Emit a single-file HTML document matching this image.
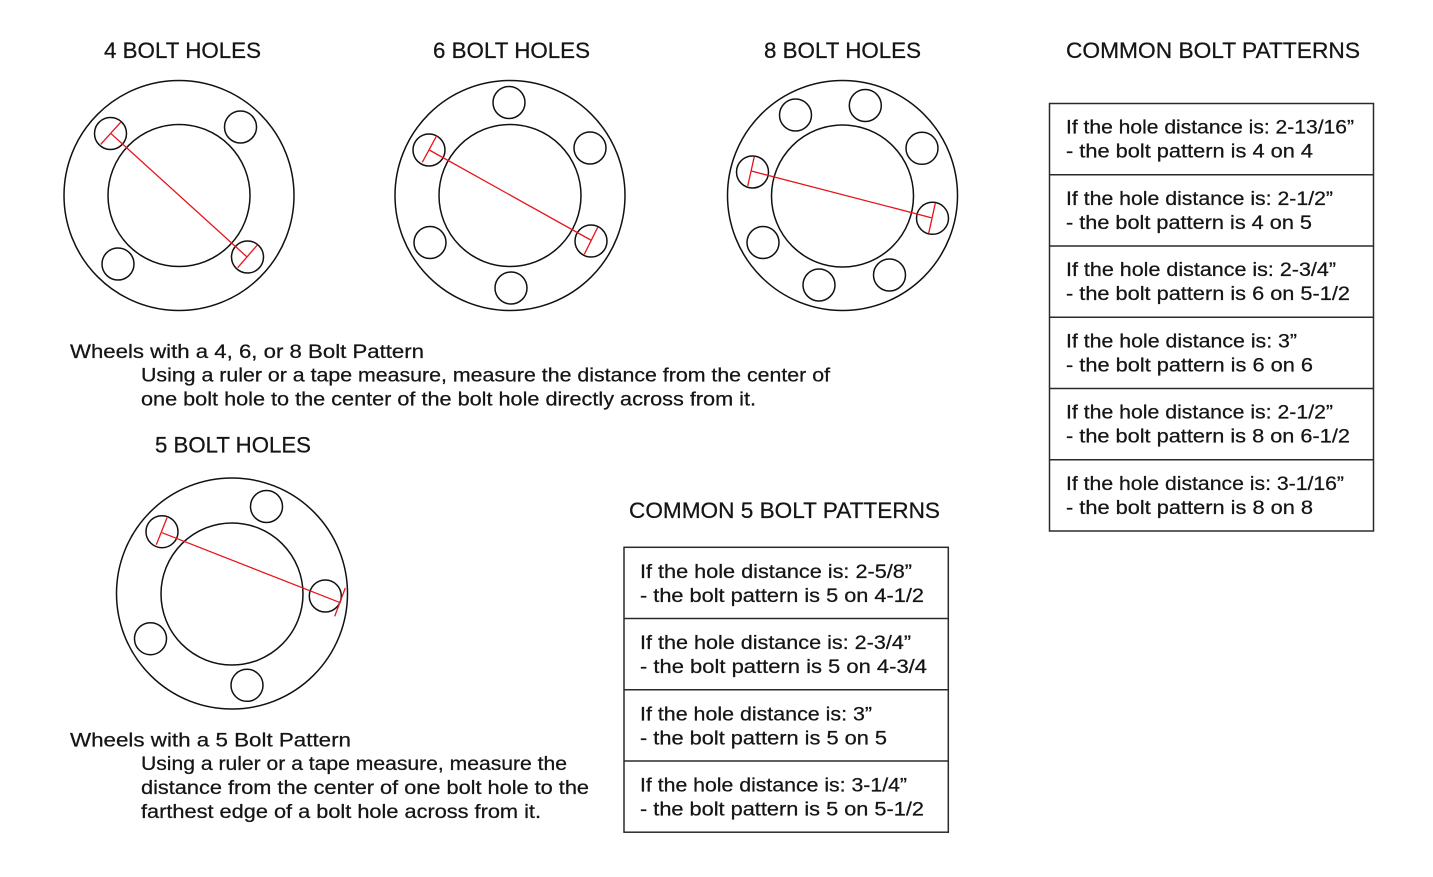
<!DOCTYPE html>
<html>
<head>
<meta charset="utf-8">
<style>
  html,body{margin:0;padding:0;background:#fff;}
  svg{display:block;}
  text{font-family:"Liberation Sans",Arial,sans-serif;fill:#151515;stroke:#151515;stroke-width:0.25px;}
  .h{font-size:22.5px;}
  .t{font-size:19px;}
</style>
</head>
<body>
<svg width="1433" height="877" viewBox="0 0 1433 877" xmlns="http://www.w3.org/2000/svg">
  <rect x="0" y="0" width="1433" height="877" fill="#fff"/>

  <!-- Headings -->
  <text class="h" x="104" y="58" textLength="157" lengthAdjust="spacingAndGlyphs">4 BOLT HOLES</text>
  <text class="h" x="433" y="58" textLength="157" lengthAdjust="spacingAndGlyphs">6 BOLT HOLES</text>
  <text class="h" x="764" y="58" textLength="157" lengthAdjust="spacingAndGlyphs">8 BOLT HOLES</text>
  <text class="h" x="1066" y="58" textLength="294" lengthAdjust="spacingAndGlyphs">COMMON BOLT PATTERNS</text>
  <text class="h" x="155" y="452.3" textLength="156" lengthAdjust="spacingAndGlyphs">5 BOLT HOLES</text>
  <text class="h" x="629" y="518" textLength="311" lengthAdjust="spacingAndGlyphs">COMMON 5 BOLT PATTERNS</text>

  <g fill="none" stroke="#111" stroke-width="1.5">
    <!-- 4 bolt -->
    <circle cx="179" cy="195.5" r="115"/>
    <circle cx="179" cy="195.5" r="71"/>
    <circle cx="110.5" cy="133.5" r="16"/>
    <circle cx="240.5" cy="127" r="16"/>
    <circle cx="118" cy="264" r="16"/>
    <circle cx="247.5" cy="257" r="16"/>
    <!-- 6 bolt -->
    <circle cx="510" cy="195.5" r="115"/>
    <circle cx="510" cy="195.5" r="71"/>
    <circle cx="509" cy="102.5" r="16"/>
    <circle cx="590" cy="148" r="16"/>
    <circle cx="429" cy="150" r="16"/>
    <circle cx="430" cy="242.5" r="16"/>
    <circle cx="591" cy="241" r="16"/>
    <circle cx="511" cy="288" r="16"/>
    <!-- 8 bolt -->
    <circle cx="842.5" cy="195.5" r="115"/>
    <circle cx="842.5" cy="196" r="71"/>
    <circle cx="795.5" cy="115" r="16"/>
    <circle cx="865.3" cy="105.5" r="16"/>
    <circle cx="922" cy="148.3" r="16"/>
    <circle cx="752.5" cy="172" r="16"/>
    <circle cx="932.5" cy="218.3" r="16"/>
    <circle cx="763" cy="242.5" r="16"/>
    <circle cx="819" cy="285" r="16"/>
    <circle cx="889.5" cy="275" r="16"/>
    <!-- 5 bolt -->
    <circle cx="232" cy="593.5" r="115.5"/>
    <circle cx="232" cy="594" r="71"/>
    <circle cx="162" cy="531.7" r="16"/>
    <circle cx="266.5" cy="506.5" r="16"/>
    <circle cx="325.3" cy="596" r="16"/>
    <circle cx="150.5" cy="638.7" r="16"/>
    <circle cx="247" cy="685.3" r="16"/>
  </g>

  <g fill="none" stroke="#e8141b" stroke-width="1.3">
    <!-- 4 bolt -->
    <line x1="110.7" y1="133.3" x2="246.7" y2="256.7"/>
    <line x1="100.7" y1="144.3" x2="120.7" y2="122.3"/>
    <line x1="237.7" y1="267.7" x2="257.3" y2="245"/>
    <!-- 6 bolt -->
    <line x1="429.3" y1="150" x2="590.7" y2="240"/>
    <line x1="422.3" y1="162.3" x2="436.7" y2="135.7"/>
    <line x1="584.3" y1="254.3" x2="597.7" y2="227.3"/>
    <!-- 8 bolt -->
    <line x1="751.3" y1="171" x2="931.3" y2="217.7"/>
    <line x1="747.7" y1="186" x2="754.3" y2="156.7"/>
    <line x1="928.7" y1="233.3" x2="935.3" y2="203.3"/>
    <!-- 5 bolt -->
    <line x1="162" y1="532.7" x2="340.3" y2="602.7"/>
    <line x1="156.3" y1="544.7" x2="167" y2="517.7"/>
    <line x1="334.7" y1="616.3" x2="345.3" y2="588"/>
  </g>

  <!-- Paragraph 1 -->
  <text class="t" x="70" y="357.8" textLength="354" lengthAdjust="spacingAndGlyphs">Wheels with a 4, 6, or 8 Bolt Pattern</text>
  <text class="t" x="141" y="381.6" textLength="689" lengthAdjust="spacingAndGlyphs">Using a ruler or a tape measure, measure the distance from the center of</text>
  <text class="t" x="141" y="405.6" textLength="615" lengthAdjust="spacingAndGlyphs">one bolt hole to the center of the bolt hole directly across from it.</text>

  <!-- Paragraph 2 -->
  <text class="t" x="70" y="746.5" textLength="281" lengthAdjust="spacingAndGlyphs">Wheels with a 5 Bolt Pattern</text>
  <text class="t" x="141" y="770.2" textLength="426" lengthAdjust="spacingAndGlyphs">Using a ruler or a tape measure, measure the</text>
  <text class="t" x="141" y="794.2" textLength="448" lengthAdjust="spacingAndGlyphs">distance from the center of one bolt hole to the</text>
  <text class="t" x="141" y="818.2" textLength="400" lengthAdjust="spacingAndGlyphs">farthest edge of a bolt hole across from it.</text>

  <!-- Right table -->
  <g fill="none" stroke="#2a2a2a" stroke-width="1.5">
    <rect x="1049.5" y="103.5" width="324" height="427.5"/>
    <line x1="1049.5" y1="174.75" x2="1373.5" y2="174.75"/>
    <line x1="1049.5" y1="246" x2="1373.5" y2="246"/>
    <line x1="1049.5" y1="317.25" x2="1373.5" y2="317.25"/>
    <line x1="1049.5" y1="388.5" x2="1373.5" y2="388.5"/>
    <line x1="1049.5" y1="459.75" x2="1373.5" y2="459.75"/>
  </g>
  <text class="t" x="1066" y="133.7" textLength="288" lengthAdjust="spacingAndGlyphs">If the hole distance is: 2-13/16”</text>
  <text class="t" x="1066" y="157.7" textLength="247" lengthAdjust="spacingAndGlyphs">- the bolt pattern is 4 on 4</text>
  <text class="t" x="1066" y="204.9" textLength="267" lengthAdjust="spacingAndGlyphs">If the hole distance is: 2-1/2”</text>
  <text class="t" x="1066" y="228.9" textLength="246" lengthAdjust="spacingAndGlyphs">- the bolt pattern is 4 on 5</text>
  <text class="t" x="1066" y="276.2" textLength="270" lengthAdjust="spacingAndGlyphs">If the hole distance is: 2-3/4”</text>
  <text class="t" x="1066" y="300.2" textLength="284" lengthAdjust="spacingAndGlyphs">- the bolt pattern is 6 on 5-1/2</text>
  <text class="t" x="1066" y="347.4" textLength="231" lengthAdjust="spacingAndGlyphs">If the hole distance is: 3”</text>
  <text class="t" x="1066" y="371.4" textLength="247" lengthAdjust="spacingAndGlyphs">- the bolt pattern is 6 on 6</text>
  <text class="t" x="1066" y="418.7" textLength="267" lengthAdjust="spacingAndGlyphs">If the hole distance is: 2-1/2”</text>
  <text class="t" x="1066" y="442.7" textLength="284" lengthAdjust="spacingAndGlyphs">- the bolt pattern is 8 on 6-1/2</text>
  <text class="t" x="1066" y="489.9" textLength="278" lengthAdjust="spacingAndGlyphs">If the hole distance is: 3-1/16”</text>
  <text class="t" x="1066" y="513.9" textLength="247" lengthAdjust="spacingAndGlyphs">- the bolt pattern is 8 on 8</text>

  <!-- Left (5 bolt) table -->
  <g fill="none" stroke="#2a2a2a" stroke-width="1.5">
    <rect x="624" y="547.3" width="324.3" height="284.9"/>
    <line x1="624" y1="618.5" x2="948.3" y2="618.5"/>
    <line x1="624" y1="689.8" x2="948.3" y2="689.8"/>
    <line x1="624" y1="761" x2="948.3" y2="761"/>
  </g>
  <text class="t" x="640" y="577.8" textLength="272" lengthAdjust="spacingAndGlyphs">If the hole distance is: 2-5/8”</text>
  <text class="t" x="640" y="601.8" textLength="284" lengthAdjust="spacingAndGlyphs">- the bolt pattern is 5 on 4-1/2</text>
  <text class="t" x="640" y="649" textLength="271" lengthAdjust="spacingAndGlyphs">If the hole distance is: 2-3/4”</text>
  <text class="t" x="640" y="673" textLength="287" lengthAdjust="spacingAndGlyphs">- the bolt pattern is 5 on 4-3/4</text>
  <text class="t" x="640" y="720.3" textLength="232" lengthAdjust="spacingAndGlyphs">If the hole distance is: 3”</text>
  <text class="t" x="640" y="744.3" textLength="247" lengthAdjust="spacingAndGlyphs">- the bolt pattern is 5 on 5</text>
  <text class="t" x="640" y="791.5" textLength="267" lengthAdjust="spacingAndGlyphs">If the hole distance is: 3-1/4”</text>
  <text class="t" x="640" y="815.5" textLength="284" lengthAdjust="spacingAndGlyphs">- the bolt pattern is 5 on 5-1/2</text>
</svg>
</body>
</html>
